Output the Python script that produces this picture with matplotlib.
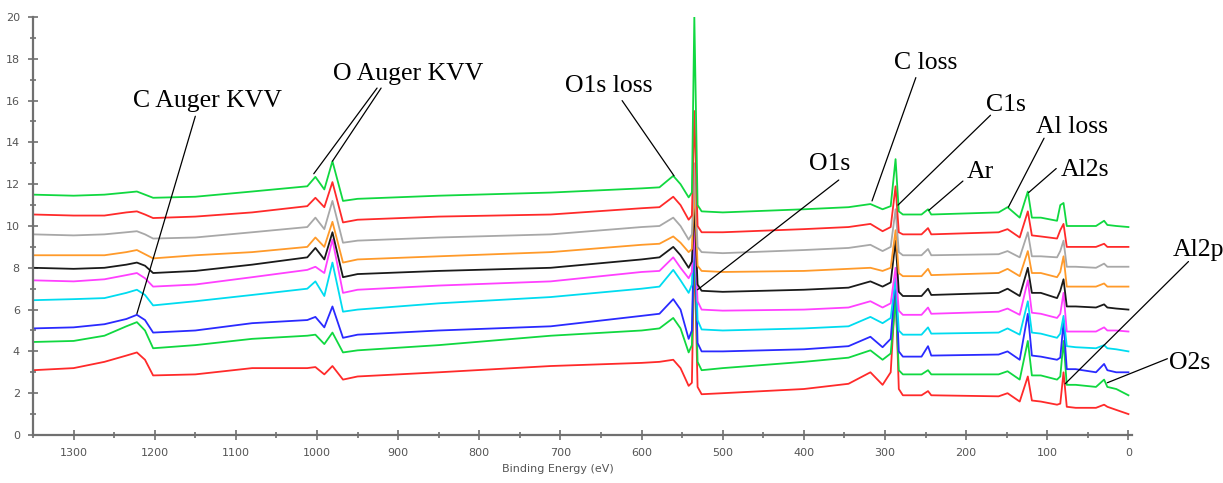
import matplotlib
matplotlib.use("Agg")
import matplotlib.pyplot as plt
from matplotlib.ticker import MultipleLocator

# binding energy grid (eV), shared by all spectra
energy = [1350, 1300, 1262, 1235, 1222, 1212, 1202, 1150, 1080, 1012, 1002, 991, 981, 968, 950, 850,
          712, 600, 578, 561, 552, 542, 538, 535, 531, 526, 500, 400, 345, 318, 303, 293, 287, 283,
          278, 255, 247, 243, 160, 149, 134, 124, 119, 108, 88, 84, 80, 76, 65, 40, 30, 26, 15, 0]

# spectra, bottom to top (offset intensities)
red_1 = [3.1, 3.2, 3.5, 3.8, 3.95, 3.6, 2.85, 2.9, 3.2, 3.2, 3.25, 2.9, 3.3, 2.65, 2.8, 3.0,
         3.3, 3.45, 3.5, 3.6, 3.2, 2.35, 2.5, 9.0, 2.3, 1.95, 2.0, 2.2, 2.45, 3.0, 2.4, 3.0, 7.0, 2.2,
         1.9, 1.9, 2.1, 1.9, 1.85, 2.0, 1.6, 2.8, 1.65, 1.6, 1.45, 1.5, 3.0, 1.35, 1.3, 1.3, 1.45, 1.35, 1.2, 1.0]
green_1 = [4.45, 4.5, 4.75, 5.2, 5.4, 5.0, 4.15, 4.3, 4.6, 4.75, 4.8, 4.35, 4.9, 3.95, 4.05, 4.3,
           4.75, 5.0, 5.1, 5.6, 5.1, 3.95, 4.3, 9.5, 3.5, 3.1, 3.2, 3.5, 3.7, 4.05, 3.6, 3.9, 6.5, 3.1,
           2.9, 2.9, 3.1, 2.9, 2.9, 3.05, 2.65, 4.5, 2.85, 2.85, 2.65, 2.8, 4.5, 2.4, 2.4, 2.3, 2.65, 2.3, 2.2, 1.9]
blue = [5.1, 5.15, 5.3, 5.55, 5.75, 5.5, 4.9, 5.0, 5.35, 5.5, 5.65, 5.15, 6.15, 4.65, 4.8, 5.0,
        5.2, 5.7, 5.8, 6.5, 6.0, 4.6, 5.0, 10.3, 4.4, 4.0, 4.0, 4.1, 4.25, 4.7, 4.2, 4.6, 7.5, 4.0,
        3.75, 3.75, 4.25, 3.8, 3.85, 4.0, 3.6, 5.8, 3.8, 3.75, 3.6, 3.7, 5.4, 3.15, 3.15, 3.0, 3.4, 3.1, 3.0, 3.0]
cyan = [6.45, 6.5, 6.55, 6.8, 6.95, 6.7, 6.2, 6.4, 6.7, 7.0, 7.35, 6.65, 8.25, 5.9, 6.0, 6.3,
        6.6, 7.0, 7.1, 7.9, 7.4, 6.8, 7.2, 10.5, 5.5, 5.05, 5.0, 5.1, 5.2, 5.65, 5.35, 5.6, 7.5, 5.0,
        4.8, 4.8, 5.15, 4.85, 4.9, 5.1, 4.8, 6.4, 4.9, 4.85, 4.65, 4.85, 5.7, 4.25, 4.2, 4.15, 4.3, 4.15, 4.1, 4.0]
magenta = [7.4, 7.35, 7.45, 7.65, 7.75, 7.5, 7.1, 7.2, 7.55, 7.9, 8.05, 7.75, 9.35, 6.8, 6.95, 7.15,
           7.35, 7.8, 7.85, 8.5, 8.0, 7.5, 7.8, 10.0, 6.4, 6.0, 5.95, 6.0, 6.1, 6.4, 6.1, 6.3, 8.0, 5.95,
           5.75, 5.75, 6.1, 5.8, 5.9, 6.05, 5.75, 7.4, 5.85, 5.8, 5.6, 5.8, 6.8, 4.95, 4.95, 4.95, 5.15, 5.0, 5.0, 4.95]
black = [8.0, 7.95, 8.0, 8.15, 8.25, 8.1, 7.75, 7.85, 8.15, 8.5, 8.95, 8.4, 9.7, 7.55, 7.7, 7.85,
         8.0, 8.4, 8.5, 9.0, 8.6, 8.0, 8.3, 11.0, 7.2, 6.9, 6.85, 6.95, 7.05, 7.35, 7.1, 7.3, 9.3, 6.85,
         6.65, 6.65, 7.0, 6.7, 6.8, 7.0, 6.65, 8.0, 6.8, 6.8, 6.55, 6.9, 7.45, 6.15, 6.15, 6.1, 6.25, 6.1, 6.05, 6.0]
orange = [8.6, 8.6, 8.6, 8.75, 8.85, 8.65, 8.45, 8.6, 8.75, 9.0, 9.45, 9.0, 10.2, 8.25, 8.4, 8.55,
          8.75, 9.1, 9.15, 9.5, 9.2, 8.75, 8.9, 12.0, 8.1, 7.85, 7.8, 7.85, 7.95, 8.0, 7.85, 8.0, 9.8, 7.75,
          7.6, 7.6, 7.95, 7.65, 7.75, 7.95, 7.6, 8.8, 7.75, 7.75, 7.55, 7.8, 8.55, 7.1, 7.1, 7.1, 7.25, 7.1, 7.1, 7.1]
gray = [9.6, 9.55, 9.6, 9.7, 9.75, 9.6, 9.4, 9.45, 9.7, 9.95, 10.4, 9.85, 11.2, 9.2, 9.3, 9.45,
        9.6, 9.95, 10.0, 10.4, 10.0, 9.35, 9.6, 13.0, 9.0, 8.75, 8.7, 8.85, 8.95, 9.1, 8.8, 9.0, 10.8, 8.75,
        8.6, 8.6, 8.9, 8.6, 8.65, 8.8, 8.5, 9.7, 8.55, 8.55, 8.5, 8.8, 9.3, 8.05, 8.05, 8.0, 8.2, 8.05, 8.05, 8.05]
red_2 = [10.55, 10.5, 10.5, 10.65, 10.7, 10.55, 10.38, 10.45, 10.65, 10.95, 11.35, 10.9, 12.1, 10.17, 10.3, 10.45,
         10.55, 10.85, 10.9, 11.4, 11.0, 10.3, 10.5, 15.5, 10.0, 9.7, 9.7, 9.85, 9.95, 10.1, 9.75, 9.95, 11.9, 9.7,
         9.6, 9.6, 9.9, 9.6, 9.7, 9.85, 9.45, 10.7, 9.55, 9.5, 9.4, 9.8, 10.1, 9.0, 9.0, 9.0, 9.15, 9.0, 9.0, 9.0]
green_2 = [11.5, 11.45, 11.5, 11.6, 11.65, 11.5, 11.35, 11.4, 11.65, 11.9, 12.35, 11.75, 13.1, 11.2, 11.3, 11.45,
           11.6, 11.8, 11.85, 12.4, 12.0, 11.37, 11.6, 20.0, 11.0, 10.7, 10.65, 10.8, 10.9, 11.05, 10.8, 10.95, 13.2, 10.7,
           10.55, 10.55, 10.8, 10.55, 10.65, 10.9, 10.4, 11.65, 10.4, 10.4, 10.25, 11.0, 11.1, 10.0, 10.0, 10.0, 10.25, 10.05, 10.0, 9.95]

spectra = [red_1, green_1, blue, cyan, magenta, black, orange, gray, red_2, green_2]
colors = ["#ff2a2a", "#10d840", "#2a2aff", "#00dcf0", "#ff40ff",
          "#1a1a1a", "#ff9a2a", "#a8a8a8", "#ff2a2a", "#10d840"]

# peak labels: text, text position, leader line(s) start -> end
labels = [
    ("C Auger KVV", (1227, 15.7), [((1150, 15.25), (1222, 5.8))]),
    ("O Auger KVV", (980, 17.0), [((926, 16.6), (1004, 12.5)), ((921, 16.6), (981, 13.1))]),
    ("O1s loss", (694, 16.4), [((624, 16.0), (560, 12.4))]),
    ("O1s", (394, 12.7), [((357, 12.2), (531, 6.95))]),
    ("C loss", (289, 17.5), [((262, 17.1), (316, 11.2))]),
    ("C1s", (176, 15.5), [((170, 15.3), (284, 11.0))]),
    ("Ar", (199, 12.3), [((204, 12.15), (246, 10.75))]),
    ("Al loss", (114, 14.45), [((104, 14.2), (148, 10.9))]),
    ("Al2s", (83, 12.4), [((89, 12.75), (123, 11.6))]),
    ("Al2p", (-55, 8.55), [((-74, 8.3), (78, 2.45))]),
    ("O2s", (-50, 3.15), [((-48, 3.65), (26, 2.5))]),
]

fig = plt.figure(figsize=(12.23, 4.83), dpi=100)
ax = fig.add_axes([0.027, 0.0994, 0.899, 0.8654])

for y, c in zip(spectra, colors):
    ax.plot(energy, y, color=c, lw=1.3)

ax.set_xlim(1350, -5)
ax.set_ylim(0, 20)
ax.xaxis.set_major_locator(MultipleLocator(100))
ax.xaxis.set_minor_locator(MultipleLocator(50))
ax.yaxis.set_major_locator(MultipleLocator(2))
ax.yaxis.set_minor_locator(MultipleLocator(1))

for s in ["top", "right"]:
    ax.spines[s].set_visible(False)
for s in ["left", "bottom"]:
    ax.spines[s].set_color("#707070")
    ax.spines[s].set_linewidth(1.6)
ax.tick_params(which="major", direction="inout", length=7, width=1.2, color="#707070",
               labelsize=8, labelcolor="#555555", pad=6)
ax.tick_params(which="minor", direction="inout", length=5, width=1.2, color="#707070")
ax.set_xlabel("Binding Energy (eV)", fontsize=8, color="#555555", labelpad=8)
ax.xaxis.set_label_coords(0.477, -0.07)

for txt, pos, leaders in labels:
    ax.text(pos[0], pos[1], txt, family="Liberation Serif", fontsize=18.5,
            ha="left", va="baseline", clip_on=False)
    for (x0, y0), (x1, y1) in leaders:
        ax.annotate("", xy=(x1, y1), xytext=(x0, y0), annotation_clip=False,
                    arrowprops=dict(arrowstyle="-", color="black", lw=0.9,
                                    shrinkA=0, shrinkB=0))

fig.savefig("out.png", dpi=100)
